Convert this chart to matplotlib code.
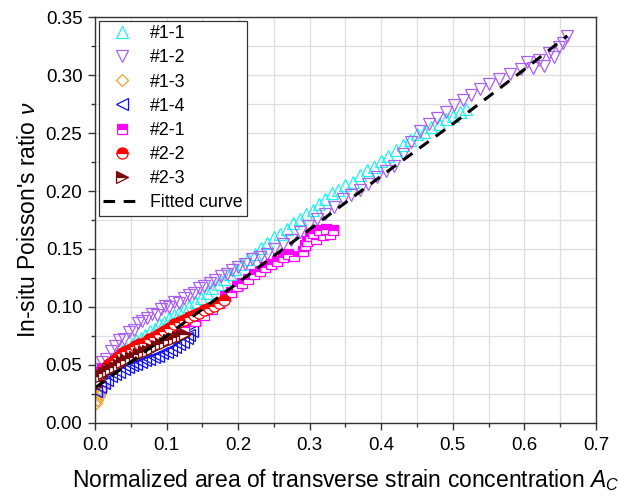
import numpy as np
import matplotlib
matplotlib.use('Agg')
import matplotlib.pyplot as plt
from matplotlib.ticker import MultipleLocator, FormatStrFormatter

plt.rcParams['font.family'] = ['Liberation Sans', 'DejaVu Sans']
plt.rcParams['mathtext.fontset'] = 'custom'
plt.rcParams['mathtext.it'] = 'Liberation Sans:italic'
plt.rcParams['mathtext.rm'] = 'Liberation Sans'

# ---- data ----
x_11 = [0.002, 0.008, 0.014, 0.020, 0.026, 0.032, 0.038, 0.045, 0.052, 0.058, 0.064, 0.070,
        0.077, 0.084, 0.090, 0.097, 0.104, 0.111, 0.118, 0.125, 0.132, 0.140, 0.148, 0.156,
        0.164, 0.172, 0.180, 0.188, 0.196, 0.205, 0.214, 0.223, 0.232, 0.241, 0.250, 0.259,
        0.268, 0.277, 0.286, 0.295, 0.304, 0.313, 0.322, 0.331, 0.340, 0.350, 0.360, 0.370,
        0.380, 0.390, 0.400, 0.410, 0.420, 0.430, 0.440, 0.450, 0.460, 0.470, 0.480, 0.490,
        0.500, 0.510, 0.518]
y_11 = [0.030, 0.037, 0.044, 0.050, 0.055, 0.057, 0.062, 0.064, 0.068, 0.071, 0.073, 0.076,
        0.079, 0.081, 0.085, 0.087, 0.090, 0.093, 0.096, 0.098, 0.101, 0.104, 0.108, 0.112,
        0.116, 0.120, 0.124, 0.128, 0.133, 0.137, 0.141, 0.146, 0.151, 0.155, 0.160, 0.163,
        0.167, 0.172, 0.176, 0.180, 0.184, 0.189, 0.193, 0.198, 0.201, 0.205, 0.208, 0.214,
        0.218, 0.221, 0.226, 0.230, 0.235, 0.240, 0.244, 0.249, 0.251, 0.255, 0.258, 0.262,
        0.265, 0.268, 0.271]

x_12 = [0.004, 0.010, 0.016, 0.022, 0.028, 0.034, 0.040, 0.047, 0.054, 0.060, 0.066, 0.073,
        0.080, 0.086, 0.092, 0.098, 0.104, 0.111, 0.118, 0.124, 0.131, 0.138, 0.145, 0.152,
        0.160, 0.168, 0.176, 0.184, 0.192, 0.200, 0.210, 0.220, 0.230, 0.240, 0.250, 0.262,
        0.274, 0.286, 0.298, 0.310, 0.322, 0.334, 0.346, 0.358, 0.370, 0.382, 0.394, 0.406,
        0.418, 0.430, 0.442, 0.454, 0.466, 0.478, 0.490, 0.502, 0.514, 0.526, 0.538, 0.550,
        0.565, 0.580, 0.595, 0.604, 0.612, 0.620, 0.627, 0.634, 0.641, 0.648, 0.654, 0.660]
y_12 = [0.046, 0.052, 0.055, 0.062, 0.066, 0.071, 0.072, 0.078, 0.080, 0.086, 0.088, 0.090,
        0.094, 0.093, 0.098, 0.101, 0.100, 0.104, 0.103, 0.108, 0.110, 0.112, 0.116, 0.118,
        0.121, 0.123, 0.127, 0.128, 0.132, 0.134, 0.137, 0.141, 0.143, 0.146, 0.150, 0.154,
        0.158, 0.165, 0.170, 0.176, 0.180, 0.186, 0.193, 0.197, 0.201, 0.206, 0.212, 0.217,
        0.222, 0.232, 0.242, 0.252, 0.258, 0.263, 0.268, 0.274, 0.279, 0.283, 0.288, 0.292,
        0.297, 0.301, 0.305, 0.311, 0.306, 0.313, 0.308, 0.319, 0.316, 0.324, 0.328, 0.334]

x_13 = [0.001, 0.003, 0.005, 0.007, 0.009, 0.011]
y_13 = [0.017, 0.020, 0.023, 0.026, 0.028, 0.031]

x_14 = [0.002, 0.007, 0.012, 0.017, 0.022, 0.028, 0.034, 0.040, 0.046, 0.052, 0.058, 0.064,
        0.070, 0.076, 0.082, 0.088, 0.094, 0.100, 0.106, 0.112, 0.118, 0.123, 0.128, 0.132, 0.135]
y_14 = [0.027, 0.031, 0.034, 0.037, 0.040, 0.042, 0.044, 0.046, 0.048, 0.050, 0.051, 0.052,
        0.054, 0.055, 0.057, 0.058, 0.060, 0.061, 0.063, 0.065, 0.068, 0.070, 0.073, 0.076, 0.079]

x_21 = [0.002, 0.010, 0.020, 0.035, 0.050, 0.065, 0.080, 0.095, 0.110, 0.125, 0.140, 0.152,
        0.163, 0.173, 0.182, 0.190, 0.198, 0.206, 0.214, 0.222, 0.230, 0.238, 0.246, 0.254,
        0.262, 0.270, 0.278, 0.290, 0.293, 0.296, 0.300, 0.304, 0.309, 0.313, 0.318, 0.323,
        0.328, 0.332]
y_21 = [0.044, 0.046, 0.050, 0.055, 0.060, 0.065, 0.069, 0.074, 0.078, 0.083, 0.088, 0.093,
        0.098, 0.103, 0.109, 0.113, 0.118, 0.121, 0.124, 0.128, 0.131, 0.134, 0.137, 0.140,
        0.143, 0.146, 0.144, 0.148, 0.153, 0.157, 0.161, 0.164, 0.159, 0.166, 0.162, 0.167,
        0.163, 0.166]

x_22 = [0.001, 0.005, 0.010, 0.015, 0.020, 0.026, 0.032, 0.038, 0.044, 0.050, 0.056, 0.062,
        0.068, 0.075, 0.082, 0.089, 0.096, 0.103, 0.110, 0.117, 0.124, 0.131, 0.138, 0.145,
        0.152, 0.159, 0.166, 0.173, 0.180]
y_22 = [0.036, 0.040, 0.044, 0.048, 0.051, 0.054, 0.057, 0.060, 0.062, 0.064, 0.066, 0.068,
        0.069, 0.072, 0.074, 0.077, 0.079, 0.082, 0.085, 0.087, 0.089, 0.091, 0.093, 0.095,
        0.097, 0.099, 0.101, 0.103, 0.106]

x_23 = [0.001, 0.005, 0.009, 0.013, 0.018, 0.023, 0.028, 0.033, 0.038, 0.044, 0.050, 0.056,
        0.062, 0.068, 0.074, 0.080, 0.086, 0.092, 0.098, 0.104, 0.110, 0.116, 0.121, 0.126]
y_23 = [0.032, 0.036, 0.040, 0.043, 0.045, 0.046, 0.048, 0.050, 0.052, 0.054, 0.056, 0.057,
        0.059, 0.061, 0.062, 0.064, 0.066, 0.068, 0.069, 0.071, 0.072, 0.074, 0.075, 0.077]

fit_x = [0.0, 0.1, 0.2, 0.3, 0.4, 0.5, 0.6, 0.66]
fit_y = [0.030, 0.075, 0.121, 0.167, 0.213, 0.258, 0.305, 0.334]

fig = plt.figure(figsize=(6.18, 4.98), dpi=100)
ax = fig.add_axes([0.1537, 0.1512, 0.8107, 0.8141])

ms = 8.5
ax.plot(x_11, y_11, ls='none', marker='^', ms=ms, mfc='none', mec='#22f0f0', mew=0.9, label='#1-1')
ax.plot(x_12, y_12, ls='none', marker='v', ms=ms, mfc='none', mec='#a860f0', mew=0.9, label='#1-2')
ax.plot(x_13, y_13, ls='none', marker='D', ms=6.5, mfc='none', mec='#f0a030', mew=0.9, label='#1-3')
ax.plot(x_14, y_14, ls='none', marker='<', ms=ms, mfc='none', mec='#1010f0', mew=0.9, label='#1-4')
ax.plot(x_21, y_21, ls='none', marker='s', ms=7, mfc='#ff00ff', mfcalt='white', fillstyle='top',
        mec='#ff00ff', mew=0.9, label='#2-1')
ax.plot(x_22, y_22, ls='none', marker='o', ms=8, mfc='#ff0000', mfcalt='white', fillstyle='top',
        mec='#ff0000', mew=0.9, label='#2-2')
ax.plot(x_23, y_23, ls='none', marker='>', ms=ms, mfc='#7a0a0a', mfcalt='white', fillstyle='top',
        mec='#7a0a0a', mew=0.9, label='#2-3')
ax.plot(fit_x, fit_y, color='black', lw=2.2, dashes=(3.8, 2.8), label='Fitted curve')

ax.set_xlim(0, 0.7)
ax.set_ylim(0, 0.35)
ax.xaxis.set_major_locator(MultipleLocator(0.1))
ax.xaxis.set_minor_locator(MultipleLocator(0.05))
ax.yaxis.set_major_locator(MultipleLocator(0.05))
ax.yaxis.set_minor_locator(MultipleLocator(0.025))
ax.xaxis.set_major_formatter(FormatStrFormatter('%.1f'))
ax.yaxis.set_major_formatter(FormatStrFormatter('%.2f'))
ax.grid(True, which='both', color='#dedede', lw=0.9)
ax.set_axisbelow(True)

ax.tick_params(which='major', direction='out', length=5, width=1, labelsize=13.5, color='#333333')
ax.tick_params(which='minor', direction='out', length=3, width=1, color='#333333')
ax.tick_params(axis='x', pad=5)
ax.tick_params(axis='y', pad=4)
for s in ax.spines.values():
    s.set_linewidth(1.0)
    s.set_color('#333333')

ax.set_xlabel('Normalized area of transverse strain concentration $A_C$', fontsize=16.5, labelpad=10)
ax.set_ylabel("In-situ Poisson's ratio $\\nu$", fontsize=16.5, labelpad=4)

leg = ax.legend(loc='upper left', fontsize=12.8, frameon=True, fancybox=False, edgecolor='#333333',
                framealpha=1, borderaxespad=0.2, labelspacing=0.4, handlelength=2.1,
                handletextpad=0.55, borderpad=0.25)
leg.get_frame().set_linewidth(0.9)

fig.savefig('out.png', dpi=100)
